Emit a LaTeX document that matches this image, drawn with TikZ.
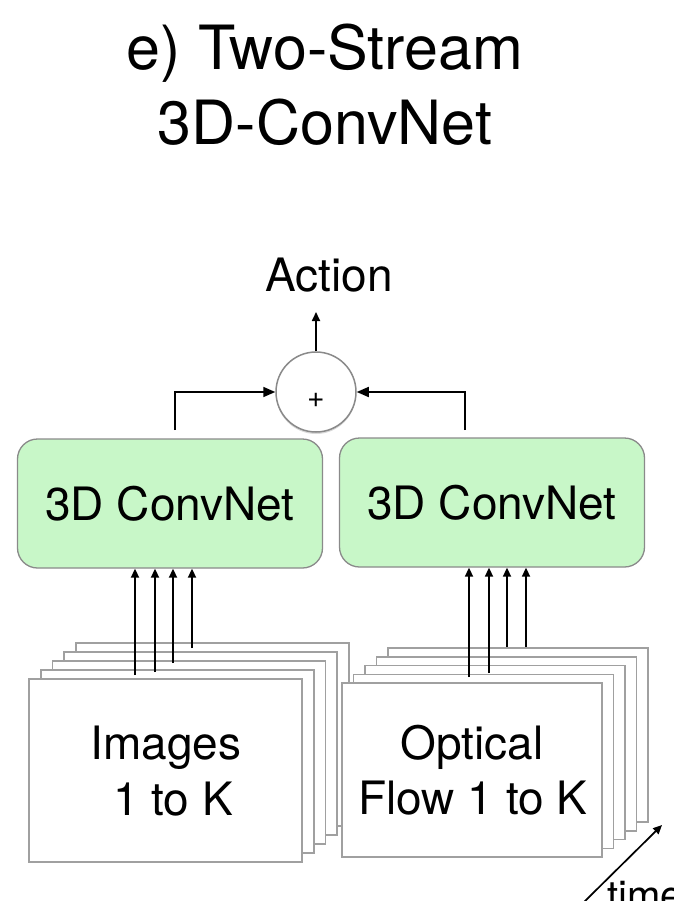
\documentclass[tikz,border=0pt]{standalone}
\usepackage{fontspec}
\setmainfont{TeX Gyre Heros}
\usetikzlibrary{arrows.meta, positioning, shadows}
\definecolor{mGreen}{HTML}{C8F7C8}
\definecolor{mEdge}{HTML}{8A8A8A}
\definecolor{mFrame}{HTML}{A0A0A0}

\tikzset{
  netbox/.style={draw=mEdge, line width=1.3pt, fill=mGreen, rounded corners=20pt,
    minimum width=305pt, minimum height=129pt, inner sep=0pt, font=\fontsize{46}{52}\selectfont},
  framebox/.style={draw=mFrame, line width=1.6pt, fill=white, inner sep=0pt},
  txt/.style={font=\fontsize{46}{52}\selectfont, inner sep=0pt, anchor=base},
  feed/.style={-{Triangle[length=12pt,width=10pt]}, line width=1.7pt},
  inarrow/.style={-{Triangle[length=9pt,width=8pt]}, line width=1.7pt},
}

\begin{document}
\begin{tikzpicture}[x=1pt, y=-1pt]
    \useasboundingbox (0,0) rectangle (673,901);
    % title
    \node[txt, font=\fontsize{61}{75}\selectfont] (title1) at (325,70) {e) Two-Stream};
    \node[txt, font=\fontsize{61}{75}\selectfont] (title2) at (325,145) {3D-ConvNet};
    \node[txt] (action) at (329,291) {Action};
    % fusion
    \node[circle, draw=mEdge, line width=1.5pt, fill=white, minimum size=80pt, inner sep=0pt,
      drop shadow={opacity=0.3, shadow xshift=0pt, shadow yshift=-2pt}] (sum) at (316,392) {};
    \node[txt, font=\fontsize{30}{30}\selectfont] (plus) at (316,407) {+};
    \coordinate (acttip) at (316,312);
    \draw[inarrow] (sum) -- (acttip);
    % the two streams
    \node[netbox] (netL) at (170,503.5) {3D ConvNet};
    \node[netbox] (netR) at (492,502.5) {3D ConvNet};
    \coordinate (fbL) at (175,430);
    \coordinate (fbR) at (465,430);
    \draw[feed] (fbL) |- (sum.west);
    \draw[feed] (fbR) |- (sum.east);
    % stacked inputs: images
    \foreach \i in {4,...,0}
      \node[framebox, minimum width=273pt, minimum height=183pt] (imgf\i) at ({165.5+11.7*\i},{770.5-9*\i}) {};
    \node[txt] (imgA) at (166,759) {Images};
    \node[txt] (imgB) at (173,815) {1 to K};
    % stacked inputs: optical flow
    \foreach \i in {4,...,0}
      \node[framebox, minimum width=260pt, minimum height=174pt] (flwf\i) at ({472+11.5*\i},{770-8.7*\i}) {};
    \node[txt] (flwA) at (472,759) {Optical};
    \node[txt] (flwB) at (473,814) {Flow 1 to K};
    % frames into the nets
    \foreach \x/\y [count=\i] in {135/675,155/672,173/663,192/648} {
      \coordinate (imgin\i) at (\x,\y);
      \draw[inarrow] (imgin\i) -- (imgin\i |- netL.south);
    }
    \foreach \x/\y [count=\i] in {469/677,489/673,507/647,526/647} {
      \coordinate (flwin\i) at (\x,\y);
      \draw[inarrow] (flwin\i) -- (flwin\i |- netR.south);
    }
    % time axis
    \coordinate (tstart) at (583,903);
    \coordinate (tend) at (662,825);
    \draw[inarrow] (tstart) -- (tend);
    \node[txt, anchor=base west, font=\fontsize{40}{44}\selectfont] (timelbl) at (607,909) {time};
\end{tikzpicture}
\end{document}
